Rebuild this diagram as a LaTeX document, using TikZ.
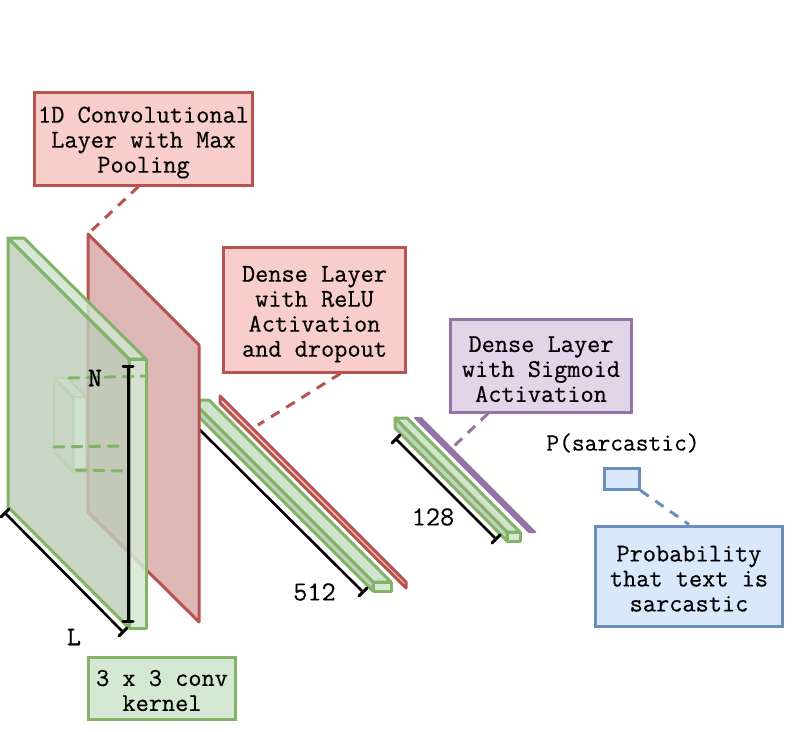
\documentclass[tikz,border=0pt]{standalone}
\usepackage{fontspec}
\newfontfamily\boxfont[FakeBold=0.5]{Latin Modern Mono}
\newfontfamily\labfont[FakeBold=0.2]{Latin Modern Mono}
\newfontfamily\heavyfont[FakeBold=1.5]{Latin Modern Mono}
\usepackage{tkz-euclide}
\usetikzlibrary{calc}
\newcommand{\tgap}[1]{\rule{0pt}{#1pt}}
\definecolor{gfill}{HTML}{D5E8D4}
\definecolor{gline}{HTML}{82B366}
\definecolor{gface}{RGB}{189,205,185}
\definecolor{gedge}{RGB}{190,210,182}
\definecolor{rfill}{HTML}{F8CECC}
\definecolor{rline}{HTML}{B85450}
\definecolor{rface}{RGB}{223,182,182}
\definecolor{bfill}{HTML}{DAE8FC}
\definecolor{bline}{HTML}{6C8EBF}
\definecolor{pfill}{HTML}{E1D5E7}
\definecolor{pline}{HTML}{9673A6}
\tikzset{
  txt/.style={font=\boxfont\fontsize{25.6}{25}\selectfont, align=center},
  lab/.style={font=\labfont\fontsize{27.5}{27}\selectfont, inner sep=0pt},
  hvy/.style={font=\heavyfont\fontsize{27}{27}\selectfont, inner sep=0pt},
  box/.style={txt, draw=#1, line width=3pt, inner sep=0pt},
  link/.style={line width=3pt, dash pattern=on 10pt off 8pt},
  dimline/.style={black, line width=2.6pt},
  tick/.style={black, line width=3pt},
}
\begin{document}
\begin{tikzpicture}[x=1pt,y=1pt]
  \useasboundingbox (0,0) rectangle (795,-731);

  \tkzDefPoints{199/-400/DA,209/-400/DB,391/-582/DC,373/-582/DD,199/-408/DE,373/-591/DF,391/-591/DG,199/-417/DH}
  \tkzDefPoints{220/-396/TA,406/-582/TB,406/-588/TC,220/-403/TD}
  \tkzDefPoints{395/-418/EA,407/-418/EB,520/-532/EC,507/-532/ED,395/-428/EE,507/-541/EF,520/-541/EG}
  \tkzDefPoints{415/-418/PA,421/-418/PB,535/-532/PC,529/-532/PD}
  \tkzDefPoints{88/-234/RA,199/-345/RB,199/-622/RC,88/-512/RD}
  \tkzDefPoints{8/-238/GA,8/-507/GB,129/-628/GC,129/-359/GD,24/-238/GE,146/-359/GF,146/-628/GG}
  \tkzDefPoints{54/-378/KA,54/-452/KB,73/-472/KC,73/-397/KD,68/-378/KE,86/-397/KF,86/-472/KG}
  \tkzDefPoints{197/-427/XA,363/-592/XB,5/-513/LA,123/-632/LB,128/-366/NA,128/-621/NB,396/-439/YA,496/-539/YB}
  \tkzDefPoints{359/-596/XC,367/-588/XD,1/-517/LC,9/-509/LD,119/-636/LE,127/-628/LF,392/-443/YC,400/-435/YD,492/-543/YE,500/-535/YF,123/-366/NC,133/-366/ND,123/-621/NE,133/-621/NF}
  \tkzDefPoints{69/-378/SA,146/-376/SB,54/-447/SC,125/-446/SD,76/-470/SE,125/-471/SF}

  \tkzDrawPolygon[draw=gline,fill=gfill!80!gface,line width=3pt](DA,DB,DC,DD,DE)
  \tkzDrawPolygon[draw=gline,fill=gface!80!gfill,line width=3pt](DE,DD,DF,DH)
  \tkzDrawPolygon[draw=gline,fill=gfill,line width=3pt](DD,DC,DG,DF)
  \tkzDrawSegment[dimline](XA,XB)
  \tkzDrawSegment[tick](XC,XD)
  \tkzDrawPolygon[draw=rline,fill=rfill,line width=3pt](TA,TB,TC,TD)

  \tkzDrawPolygon[draw=gline,fill=gfill!80!gface,line width=3pt](EA,EB,EC,ED)
  \tkzDrawPolygon[draw=gline,fill=gface!80!gfill,line width=3pt](EA,ED,EF,EE)
  \tkzDrawPolygon[draw=gline,fill=gfill,line width=3pt](ED,EC,EG,EF)
  \tkzDrawPolygon[draw=pline,fill=pline,line width=2pt](PA,PB,PC,PD)
  \tkzDrawSegment[dimline](YA,YB)
  \tkzDrawSegment[tick](YC,YD)
  \tkzDrawSegment[tick](YE,YF)

  \tkzDrawPolygon[draw=rline,fill=rface,line width=3pt](RA,RB,RC,RD)

  \tkzDrawPolygon[draw=gline,fill=gfill!85!gface,fill opacity=.85,line width=3pt](GA,GE,GF,GD)
  \tkzDrawPolygon[draw=gline,fill=gfill,fill opacity=.85,line width=3pt](GD,GF,GG,GC)
  \tkzDrawPolygon[draw=gline,fill=gface,fill opacity=.82,line width=3pt](GA,GD,GC,GB)
  \tkzDrawPolygon[draw=gedge,fill=gfill,fill opacity=.4,line width=2.5pt](KE,KF,KD,KA)
  \tkzDrawPolygon[draw=gedge,fill=gfill,fill opacity=.6,line width=2.5pt](KD,KF,KG,KC)
  \tkzDrawPolygon[draw=gedge,line width=2.5pt](KA,KD,KC,KB)
  \tkzDrawSegment[gline,link](SA,SB)
  \tkzDrawSegment[gline,link](SC,SD)
  \tkzDrawSegment[gline,link](SE,SF)

  \tkzDrawSegment[dimline](LA,LB)
  \tkzDrawSegment[tick](LC,LD)
  \tkzDrawSegment[tick](LE,LF)
  \tkzDrawSegment[tick](NA,NB)
  \tkzDrawSegment[tick](NC,ND)
  \tkzDrawSegment[tick](NE,NF)

  \node[box=rline,fill=rfill,minimum width=218,minimum height=93] (convbox) at (143.5,-138.5) {\tgap{24}1D Convolutional\\Layer with Max\\Pooling};
  \node[box=rline,fill=rfill,minimum width=182,minimum height=125] (relubox) at (314.5,-309.5) {\tgap{25}Dense Layer\\with ReLU\\Activation\\and dropout};
  \node[box=pline,fill=pfill,minimum width=181,minimum height=93] (sigbox) at (541,-365.5) {\tgap{23}Dense Layer\\with Sigmoid\\Activation};
  \node[box=bline,fill=bfill,minimum width=187,minimum height=100] (probbox) at (689,-576) {\tgap{21}Probability\\that text is\\sarcastic};
  \node[box=gline,fill=gfill,minimum width=147,minimum height=62] (kernbox) at (162,-688) {\tgap{21}3 x 3 conv\\kernel};
  \node[draw=bline,fill=bfill,line width=3pt,minimum width=35,minimum height=21,inner sep=0pt] (outbox) at (621.5,-478.5) {};

  \node[txt,font=\boxfont\fontsize{24.8}{25}\selectfont] (sarc) at (623,-443) {P(sarcastic)};
  \node[hvy] (dimn) at (95,-378) {N};
  \node[hvy] (diml) at (74,-637) {L};
  \node[lab] (dimx) at (314.5,-592) {512};
  \node[lab] (dimy) at (433,-517) {128};

  \coordinate (relutip) at (258,-425);
  \coordinate (sigtip) at (450,-450);
  \draw[rline,link] ([xshift=-5pt]convbox.south) -- (RA);
  \draw[rline,link] ([xshift=26pt]relubox.south) -- (relutip);
  \draw[pline,link] ([xshift=-53pt]sigbox.south) -- (sigtip);
  \draw[bline,link] (outbox.south east) -- (probbox.north);
\end{tikzpicture}
\end{document}
